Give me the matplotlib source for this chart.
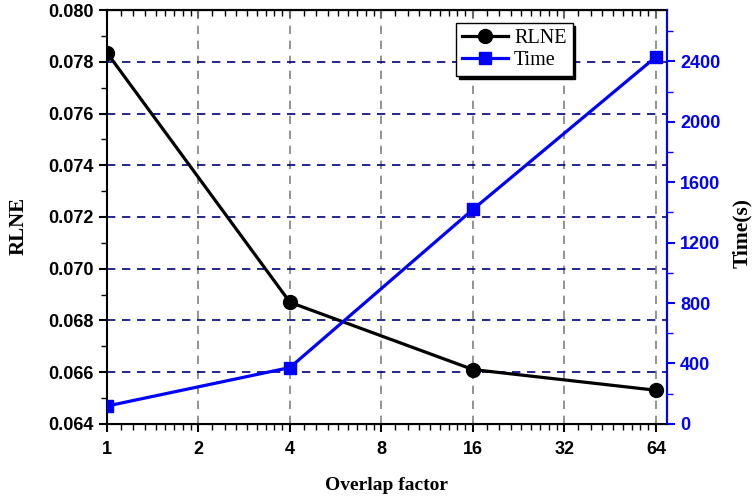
import matplotlib
matplotlib.use('Agg')
import matplotlib.pyplot as plt
import matplotlib.ticker as mticker
from matplotlib.font_manager import FontProperties

# overlap factor vs reconstruction error and run time
overlap = [1, 4, 16, 64]
rlne = [0.07835, 0.0687, 0.0661, 0.0653]
time_s = [118, 373, 1420, 2430]

x_ticks = [1, 2, 4, 8, 16, 32, 64]

blue = '#0000FF'
minor_subs = [1 + k / 9 for k in range(1, 9)]

fig = plt.figure(figsize=(7.56, 5.04), dpi=100)
ax1 = fig.add_axes([0.1415, 0.159, 0.7405, 0.821])
ax2 = ax1.twinx()

l1, = ax1.plot(overlap, rlne, '-o', color='black', lw=2.3, ms=10, label='RLNE', zorder=5)
l2, = ax2.plot(overlap, time_s, '-s', color=blue, lw=2.3, ms=9, label='Time', zorder=5)

ax1.set_xscale('log', base=2)
ax1.set_xlim(1, 69.5)
ax1.xaxis.set_major_locator(mticker.FixedLocator(x_ticks))
ax1.xaxis.set_major_formatter(mticker.FixedFormatter([str(v) for v in x_ticks]))
ax1.xaxis.set_minor_locator(mticker.LogLocator(base=2, subs=minor_subs, numticks=50))
ax1.xaxis.set_minor_formatter(mticker.NullFormatter())

ax1.set_ylim(0.064, 0.080)
ax1.yaxis.set_major_locator(mticker.MultipleLocator(0.002))
ax1.yaxis.set_minor_locator(mticker.MultipleLocator(0.001))
ax1.yaxis.set_major_formatter(mticker.FormatStrFormatter('%.3f'))

ax2.set_ylim(0, 2740)
ax2.yaxis.set_major_locator(mticker.MultipleLocator(400))
ax2.yaxis.set_minor_locator(mticker.MultipleLocator(200))

tick_font = FontProperties(family='Liberation Sans', weight='bold', size=13)
for lab in ax1.get_xticklabels() + ax1.get_yticklabels():
    lab.set_fontproperties(tick_font)
for lab in ax2.get_yticklabels():
    lab.set_fontproperties(tick_font)
    lab.set_color(blue)

ax1.tick_params(axis='x', which='major', direction='out', length=6, width=1.5, pad=6)
ax1.tick_params(axis='x', which='minor', direction='out', length=4, width=1)
ax1.tick_params(axis='y', which='major', direction='out', length=6, width=1.5)
ax1.tick_params(axis='y', which='minor', direction='out', length=4, width=1)
ax2.tick_params(axis='y', which='major', direction='out', length=6, width=1.5, colors=blue)
ax2.tick_params(axis='y', which='minor', direction='out', length=4, width=1, colors=blue)

# mirrored ticks on the top spine, pointing in
top = ax1.secondary_xaxis('top')
top.xaxis.set_major_locator(mticker.FixedLocator(x_ticks))
top.xaxis.set_minor_locator(mticker.LogLocator(base=2, subs=minor_subs, numticks=50))
top.xaxis.set_major_formatter(mticker.NullFormatter())
top.xaxis.set_minor_formatter(mticker.NullFormatter())
top.tick_params(which='major', direction='in', length=6, width=1.5)
top.tick_params(which='minor', direction='in', length=4, width=1)
top.spines['top'].set_linewidth(1.5)

for sp in ax1.spines.values():
    sp.set_linewidth(1.5)
ax2.spines['right'].set_color(blue)
ax2.spines['right'].set_linewidth(1.5)
ax2.spines['left'].set_visible(False)

ax1.grid(True, axis='y', which='major', color='#000080', ls=(0, (5, 4)), lw=1.2)
ax1.grid(True, axis='x', which='major', color='#808080', ls=(0, (5, 4)), lw=1.2)
ax1.set_axisbelow(True)

label_font = dict(fontfamily='Liberation Serif', fontweight='bold')
ax1.set_xlabel('Overlap factor', fontsize=14, **label_font)
ax1.xaxis.set_label_coords(0.5, -0.128)
ax1.set_ylabel('RLNE', fontsize=15, **label_font)
ax1.yaxis.set_label_coords(-0.14, 0.478)
ax2.set_ylabel('Time(s)', fontsize=15.5, **label_font)
ax2.yaxis.set_label_coords(1.116, 0.462)

leg = ax2.legend([l1, l2], ['RLNE', 'Time'], loc='upper left', bbox_to_anchor=(0.623, 0.969),
                 borderaxespad=0, prop=dict(family='Liberation Serif', size=14.5), frameon=True,
                 fancybox=False, shadow=dict(color='black', alpha=1), edgecolor='black',
                 framealpha=1, handlelength=2.3, borderpad=0.3, labelspacing=0.15,
                 handletextpad=0.3)
leg.get_frame().set_linewidth(1.0)

fig.savefig('out.png', dpi=100)
